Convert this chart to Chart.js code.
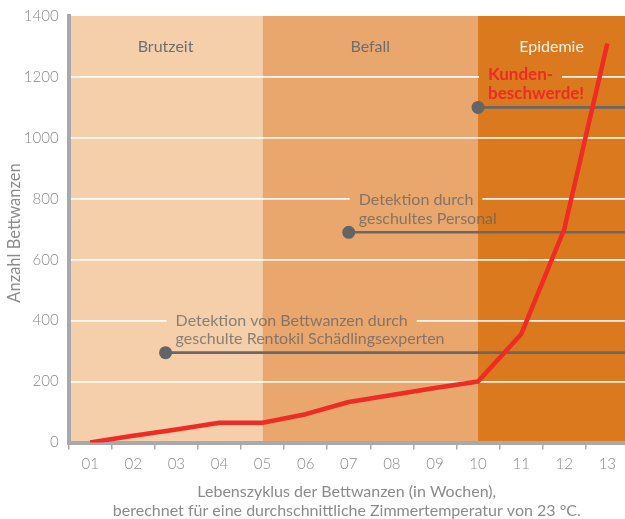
<!DOCTYPE html>
<html>
<head>
<meta charset="utf-8">
<title>Lebenszyklus der Bettwanzen</title>
<script src="https://cdn.jsdelivr.net/npm/chart.js@4.4.1/dist/chart.umd.min.js"></script>
<style>
  html, body { margin: 0; padding: 0; background: #fff; overflow: hidden; }
  canvas { display: block; }
</style>
</head>
<body>
<canvas id="bedbugChart" width="625" height="519"></canvas>
<script>
// weeks of the life cycle and counted bed bugs
const weeks = ['01', '02', '03', '04', '05', '06', '07', '08', '09', '10', '11', '12', '13'];
const bedbugCount = [0, 22, 43, 65, 65, 93, 133, 156, 179, 200, 355, 700, 1310];
const yTicks = [0, 200, 400, 600, 800, 1000, 1200, 1400];

// phases, boundaries sit on week 05 and week 10 (index into weeks)
const phaseNames = ['Brutzeit', 'Befall', 'Epidemie'];
const phaseBounds = [4, 9];

// detection points (week position, level) and their captions
const detectionWeek = [1.75, 6, 9];
const detectionLevel = [295, 690, 1100];
const detectionText = [
  ['Detektion von Bettwanzen durch', 'geschulte Rentokil Schädlingsexperten'],
  ['Detektion durch', 'geschultes Personal'],
  ['Kunden-', 'beschwerde!']
];

const X_MIN = -0.5;
const X_MAX = 12.41;

const phaseColors = ['#F4CFAA', '#E9A76D', '#DA791E'];
const phaseLabelColors = ['#6d6e71', '#6d6e71', '#fdf3ea'];
const FONT = 'Lato, "Open Sans", sans-serif';
const axisGray = '#a7a9ac';
const textGray = '#8a8b8d';

// paint the phase bands inside a rect (also used to cut the gridlines behind captions)
function paintBands(chart, left, top, right, bottom) {
  const ctx = chart.ctx;
  const x = chart.scales.x;
  const edges = [X_MIN, ...phaseBounds, X_MAX];
  ctx.save();
  ctx.beginPath();
  ctx.rect(left, top, right - left, bottom - top);
  ctx.clip();
  for (let i = 0; i < phaseNames.length; i++) {
    const x0 = x.getPixelForValue(edges[i]);
    const x1 = x.getPixelForValue(edges[i + 1]);
    ctx.fillStyle = phaseColors[i];
    ctx.fillRect(x0, top, x1 - x0, bottom - top);
  }
  ctx.restore();
}

const bandPlugin = {
  id: 'phases',
  beforeDraw(chart) {
    const a = chart.chartArea;
    paintBands(chart, a.left, a.top, a.right, a.bottom);
  },
  beforeDatasetsDraw(chart) {
    const ctx = chart.ctx;
    const a = chart.chartArea;
    const x = chart.scales.x;
    const y = chart.scales.y;
    const edges = [X_MIN, ...phaseBounds, X_MAX];

    // phase names
    ctx.save();
    ctx.font = '16px ' + FONT;
    ctx.textAlign = 'center';
    ctx.textBaseline = 'middle';
    phaseNames.forEach((name, i) => {
      const cx = (x.getPixelForValue(edges[i]) + x.getPixelForValue(edges[i + 1])) / 2;
      ctx.fillStyle = phaseLabelColors[i];
      ctx.fillText(name, cx, a.top + 31);
    });
    ctx.restore();

    // captions of the detection points
    detectionText.forEach((lines, i) => {
      const px = x.getPixelForValue(detectionWeek[i]);
      const py = y.getPixelForValue(detectionLevel[i]);
      const tx = px + 10;
      const b1 = py - 27;
      const b2 = py - 8.5;
      const isComplaint = i === detectionText.length - 1;
      ctx.save();
      ctx.font = isComplaint ? 'bold 17px ' + FONT : '16px ' + FONT;
      const w = ctx.measureText(lines[0]).width;
      paintBands(chart, tx - 9, b1 - 13, tx + w + 9, b1 + 3);
      ctx.fillStyle = isComplaint ? '#EE2B24' : 'rgba(95,96,100,0.72)';
      ctx.textAlign = 'left';
      ctx.textBaseline = 'alphabetic';
      ctx.fillText(lines[0], tx, b1);
      ctx.fillText(lines[1], tx, b2);
      ctx.restore();
    });
  },
  afterDraw(chart) {
    // y axis title
    const ctx = chart.ctx;
    ctx.save();
    ctx.translate(15, 233);
    ctx.rotate(-Math.PI / 2);
    ctx.font = '16.5px ' + FONT;
    ctx.fillStyle = textGray;
    ctx.textAlign = 'center';
    ctx.textBaseline = 'middle';
    ctx.fillText('Anzahl Bettwanzen', 0, 0);
    ctx.restore();
  }
};

const datasets = [{
  label: 'Anzahl Bettwanzen',
  data: weeks.map((w, i) => ({ x: i, y: bedbugCount[i] })),
  borderColor: '#EE2B24',
  borderWidth: 4.5,
  borderJoinStyle: 'round',
  pointRadius: 0,
  tension: 0
}];

detectionLevel.forEach((lvl, i) => {
  datasets.push({
    label: detectionText[i].join(' '),
    data: [{ x: detectionWeek[i], y: lvl }, { x: X_MAX, y: lvl }],
    borderColor: '#68686b',
    backgroundColor: '#646467',
    borderWidth: 2.6,
    pointRadius: c => c.dataIndex === 0 ? 6.5 : 0,
    pointBorderWidth: 0,
    tension: 0
  });
});

new Chart(document.getElementById('bedbugChart'), {
  type: 'line',
  data: { datasets: datasets },
  options: {
    responsive: false,
    animation: false,
    layout: { autoPadding: false, padding: { top: 16, right: 0, bottom: 0, left: 0 } },
    plugins: {
      legend: { display: false },
      tooltip: { enabled: false }
    },
    scales: {
      x: {
        type: 'linear',
        min: X_MIN,
        max: X_MAX,
        afterBuildTicks: s => { s.ticks = weeks.map((w, i) => ({ value: i })); },
        afterFit: s => { s.height = 76.5; s.paddingLeft = 0; s.paddingRight = 0; },
        grid: {
          offset: true,
          drawOnChartArea: false,
          drawTicks: true,
          tickLength: 7,
          color: axisGray,
          lineWidth: 1.5
        },
        border: { color: axisGray, width: 4 },
        ticks: {
          callback: v => weeks[v],
          color: textGray,
          font: { family: FONT, size: 15, weight: 300 },
          padding: 6,
          maxRotation: 0,
          autoSkip: false
        },
        title: {
          display: true,
          text: ['Lebenszyklus der Bettwanzen (in Wochen),',
                 'berechnet für eine durchschnittliche Zimmertemperatur von 23 °C.'],
          color: textGray,
          font: { family: FONT, size: 16, lineHeight: '19px' },
          padding: { top: 0, bottom: -1 }
        }
      },
      y: {
        min: 0,
        max: 1400,
        afterBuildTicks: s => { s.ticks = yTicks.map(v => ({ value: v })); },
        afterFit: s => { s.width = 68.6; s.paddingTop = 0; s.paddingBottom = 0; },
        grid: {
          color: c => (c.tick && c.tick.value > 0 && c.tick.value < 1400) ? 'rgba(255,255,255,0.9)' : 'rgba(0,0,0,0)',
          lineWidth: 1.8,
          drawTicks: false
        },
        border: { color: axisGray, width: 4 },
        ticks: {
          callback: v => String(v),
          color: textGray,
          font: { family: FONT, size: 15, weight: 300 },
          padding: 10
        }
      }
    }
  },
  plugins: [bandPlugin]
});
</script>
</body>
</html>
